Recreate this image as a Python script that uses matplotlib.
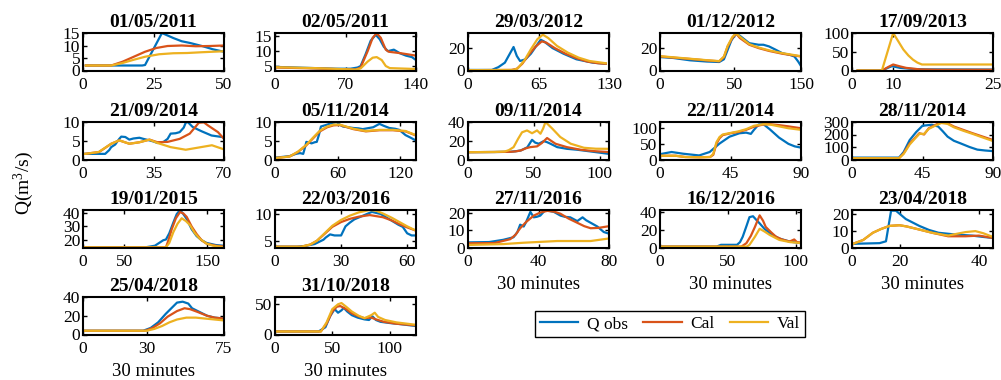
import numpy as np
import matplotlib
matplotlib.use('Agg')
import matplotlib.pyplot as plt
from matplotlib.lines import Line2D

plt.rcParams['font.family'] = ['Liberation Serif', 'DejaVu Serif']
plt.rcParams['mathtext.fontset'] = 'custom'
plt.rcParams['mathtext.rm'] = 'Liberation Serif'
plt.rcParams['mathtext.it'] = 'Liberation Serif:italic'

# event dates (one panel each)
titles = ['01/05/2011', '02/05/2011', '29/03/2012', '01/12/2012', '17/09/2013',
          '21/09/2014', '05/11/2014', '09/11/2014', '22/11/2014', '28/11/2014',
          '19/01/2015', '22/03/2016', '27/11/2016', '16/12/2016', '23/04/2018',
          '25/04/2018', '31/10/2018']

# axis ranges / ticks per panel
x_max = [50, 140, 130, 150, 25, 70, 135, 107, 90, 90, 170, 64, 80, 104, 44, 75, 123]
y_lim = [(0, 15), (3.5, 16.1), (0, 33.5), (0, 33.5), (0, 100),
         (0, 10), (0, 10), (0, 40), (0, 120), (0, 300),
         (14.7, 42), (3.75, 10.75), (0, 22), (0, 42), (0, 22.4),
         (0, 40), (0, 62)]
y_ticks = [[0, 5, 10, 15], [5, 10, 15], [0, 20], [0, 20], [0, 50, 100],
           [0, 5, 10], [0, 5, 10], [0, 20, 40], [0, 50, 100], [0, 100, 200, 300],
           [20, 30, 40], [5, 10], [0, 10, 20], [0, 20, 40], [0, 10, 20],
           [0, 20, 40], [0, 50]]
x_tick_labels = [['0', '25', '50'], ['0', '70', '140'], ['0', '65', '130'], ['0', '50', '150'],
                 ['0', '10', '25'], ['0', '35', '70'], ['0', '60', '120'], ['0', '50', '100'],
                 ['0', '45', '90'], ['0', '45', '90'], ['0', '50', '150'], ['0', '30', '60'],
                 ['0', '40', '80'], ['0', '50', '100'], ['0', '20', '40'], ['0', '30', '75'],
                 ['0', '50', '100']]
x_tick_pos = [[0, 25, 50], [0, 70, 140], [0, 65, 130], [0, 79, 150], [0, 7.3, 25],
              [0, 35, 70], [0, 60, 120], [0, 50, 100], [0, 45, 90], [0, 45, 90],
              [0, 50, 150], [0, 30, 60], [0, 40, 80], [0, 50, 100], [0, 14.9, 39.7],
              [0, 34, 75], [0, 50, 100]]

# readings [x, y]
obs_01 = [[1, 2], [21, 2], [22, 2.2], [28, 15], [32, 13], [35, 11.7], [38, 11], [42.5, 9.7], [46, 8.5], [50, 7.5]]
cal_01 = [[1, 2], [10, 2], [14, 3.5], [18, 5.5], [22, 7.5], [26, 9], [30, 9.8], [35, 10], [40, 9.7], [45, 9.8], [50, 10]]
val_01 = [[1, 2], [10, 2], [14, 3], [18, 4.3], [22, 5.5], [27, 6.5], [32, 6.9], [37, 7], [42, 7.3], [50, 7.7]]

obs_02 = [[1, 4.7], [20, 4.5], [40, 4.3], [60, 4.1], [75, 4.1], [82, 4.5], [85, 5], [90, 9], [95, 13.5], [100, 15.5],
          [104, 14], [108, 11.5], [112, 10], [118, 10.5], [124, 9.3], [130, 8.5], [136, 8], [140, 7]]
cal_02 = [[1, 4.5], [40, 4.2], [80, 3.8], [85, 4.5], [92, 10], [97, 14.5], [101, 16], [105, 14.5], [110, 10.5],
          [113, 9.8], [125, 9.3], [140, 8.5]]
val_02 = [[1, 4.6], [40, 4.3], [80, 3.8], [85, 4.2], [92, 6.5], [97, 7.8], [101, 8], [106, 7], [110, 5], [114, 4.3], [140, 4]]

obs_03 = [[0, 0.5], [22, 0.5], [28, 3], [34, 7], [38, 14], [42, 21], [45, 13], [48, 8.5], [53, 10], [58, 15], [63, 22],
          [67, 27.5], [70, 26], [78, 20], [88, 15], [100, 10], [115, 7], [127, 6]]
cal_03 = [[0, 0.3], [40, 0.5], [45, 1.5], [50, 6], [56, 14], [62, 21], [68, 26], [72, 25], [80, 20], [90, 15],
          [100, 11], [110, 8], [120, 6.5], [127, 6]]
val_03 = [[0, 0.3], [42, 0.5], [46, 2], [52, 9], [58, 19], [64, 28], [69, 32], [74, 29], [82, 22], [92, 16],
          [102, 11.5], [112, 8.5], [127, 6.5]]

obs_04 = [[0, 12], [14, 11.2], [32, 9.1], [50, 8], [63, 7.6], [68, 10], [72, 18.5], [76, 27], [81, 33], [85, 31],
          [95, 24.4], [105, 23], [110, 23], [116, 21.5], [122, 19], [130, 15.5], [138, 14], [143, 12.5], [147, 8], [150, 4]]
cal_04 = [[0, 12.6], [14, 11.5], [32, 10.3], [50, 9], [63, 8.2], [68, 12], [72, 21.5], [77, 29], [81, 33], [85, 29],
          [95, 23], [105, 20], [116, 17.5], [130, 15], [150, 12.5]]
val_04 = [[0, 12.8], [14, 11.8], [32, 10.5], [50, 9.2], [63, 8.4], [68, 12.5], [72, 22], [77, 30], [81, 33.2],
          [86, 29.5], [95, 23.5], [105, 20.5], [116, 18], [130, 15.5], [150, 12.8]]

obs_05 = [[1, 0], [5.3, 0], [6.5, 8], [7.1, 11.5], [8.5, 7], [10.8, 4], [13, 3], [25, 2.5]]
cal_05 = [[1, 0], [5.3, 0], [6.5, 10], [7.3, 16], [8.5, 11], [9.6, 7], [12, 3], [15, 2], [25, 2]]
val_05 = [[1, 0], [5.3, 0], [7.3, 100], [8.2, 78], [9.1, 56], [10, 40], [10.8, 29], [11.6, 21], [12.4, 16], [25, 16]]

obs_06 = [[1, 1.5], [11, 1.5], [13, 2.5], [14, 3.3], [16, 4], [18, 5.5], [19, 6.1], [21, 6], [23, 5.3], [25, 5.6],
          [28, 5.8], [30, 5.5], [33, 5.1], [35, 4.8], [37, 4.4], [40, 4.7], [42, 5.5], [43.5, 6.9], [46, 7], [48, 7.3],
          [50, 8.5], [51, 9.8], [52, 10], [54.4, 8.7], [57, 8], [59, 7.5], [63.8, 6.4], [69, 6], [70, 5.8]]
cal_06 = [[1, 1.5], [8, 2], [14, 4.2], [18, 5.1], [23, 4.2], [28, 4.6], [33, 5.3], [37, 4.6], [42, 4.7], [48, 5.5],
          [53, 6.9], [55.5, 8.5], [57.5, 9.8], [60, 9.9], [62, 9.1], [67, 7.3], [70, 5.5]]
val_06 = [[1, 1.5], [7.8, 2], [14, 4.2], [18, 5.1], [23, 4.2], [28, 4.6], [33, 5.3], [37, 4.4], [43.5, 3.3],
          [51, 2.6], [57.5, 3.2], [64, 3.8], [70, 2.7]]

obs_07 = [[1, 0.5], [14, 0.9], [20, 1.5], [24, 1.7], [27, 1.5], [29, 3.5], [30, 4.7], [33, 4.5], [35, 4.3], [38, 4.6],
          [40, 4.7], [42, 6.5], [44, 8.8], [50, 9.3], [54, 9.7], [59, 10], [62, 9.3], [65, 8.8], [70, 8.6], [75, 8.4],
          [80, 8.3], [84, 8.1], [90, 8.4], [94, 8.6], [100, 9.5], [104, 9], [109.5, 8.4], [115, 8.2], [119, 7.9],
          [122, 7.2], [125, 6.5], [130, 5.8], [134, 5.2]]
cal_07 = [[1, 0.4], [14, 0.8], [22, 2], [30, 3.8], [37, 5.8], [43, 7.5], [50, 8.6], [56, 9.1], [62, 9.2], [68, 8.7],
          [75, 8.1], [87, 7.5], [100, 7.8], [113, 7.8], [125, 7.5], [134, 6.5]]
val_07 = [[1, 0.4], [14, 0.8], [22, 2.1], [30, 3.9], [37, 6], [43, 7.7], [50, 8.8], [56, 9.3], [62, 9.3], [68, 8.8],
          [75, 8.2], [87, 7.6], [100, 7.9], [113, 7.9], [125, 7.6], [134, 6.6]]

obs_08 = [[0, 7.8], [20, 8], [32, 8.2], [36, 8.8], [40, 9.6], [45, 13], [48.6, 21], [51, 18], [53.7, 16.8], [57.5, 19.6],
          [60, 18.5], [62.6, 16.8], [67.7, 13.2], [75, 11.4], [83, 10.4], [93, 8.6], [107, 6]]
cal_08 = [[0, 7.8], [20, 8], [32, 8.2], [36, 8.6], [40, 9.6], [44, 12], [47.3, 13.2], [52.4, 14], [56, 17.5], [60, 22.9],
          [63, 20], [66.4, 16.8], [75, 13.2], [85.5, 10.4], [95, 9], [107, 7.9]]
val_08 = [[0, 7.8], [20, 8], [28, 8.5], [31, 10], [34.6, 13.2], [38, 22], [41, 29], [44.8, 31], [48.6, 28], [52.4, 31],
          [55, 27.5], [57, 33], [58.8, 40], [61, 37], [64, 32.9], [70, 24], [78, 16.8], [88, 12.5], [97, 11.5], [107, 11.4]]

obs_09 = [[1, 18], [7.4, 24], [14.8, 18.5], [25, 13], [31.7, 24], [38, 51], [44.4, 73], [50.7, 84], [55, 86], [58, 82],
          [60, 95], [63, 112], [66, 113], [70, 97], [76, 70], [82, 50], [86, 42], [90, 38]]
cal_09 = [[1, 12], [10, 12], [16, 8], [25, 7], [32, 8], [34, 15], [36, 50], [38, 68], [40, 78], [45, 84], [50, 88],
          [55, 95], [60, 105], [66, 112], [70, 113], [76, 110], [82, 106], [90, 100]]
val_09 = [[1, 12], [10, 12], [16, 8], [25, 7], [32, 8], [34, 18], [36, 55], [38, 72], [40, 80], [45, 85], [50, 90],
          [55, 97], [60, 108], [66, 113], [70, 112], [76, 106], [82, 100], [90, 95]]

obs_10 = [[0, 15], [30, 15], [33, 60], [36.8, 155], [41, 220], [45, 270], [51, 278], [55, 264], [58, 225], [61, 183],
          [65, 150], [69.5, 128], [75, 100], [80, 79], [85, 72], [89, 68]]
cal_10 = [[0, 10], [30, 10], [33, 50], [36.8, 128], [40, 170], [43, 210], [46, 200], [49, 250], [53, 275], [57, 300],
          [61, 290], [65, 264], [71, 237], [77, 210], [83, 185], [89, 160]]
val_10 = [[0, 10], [30, 10], [33, 45], [36.8, 120], [40, 165], [43, 205], [46, 205], [49, 245], [53, 270], [57, 292],
          [61, 285], [65, 258], [71, 230], [77, 205], [83, 178], [89, 152]]

obs_11 = [[0, 14.8], [75, 14.8], [86.7, 16], [96.8, 20], [100, 20.5], [104, 25], [109, 33], [113, 39], [117, 42],
          [121, 39], [125, 35.5], [131, 28], [137, 23], [143, 20], [149, 18], [160, 16.5], [169, 16]]
cal_11 = [[0, 14.8], [100, 14.8], [103, 20], [107, 28], [112, 36], [117, 40.5], [121, 39.5], [125, 37], [131, 30],
          [137, 24.5], [143, 20], [149, 17.5], [160, 16], [169, 15.5]]
val_11 = [[0, 14.8], [100, 14.8], [104, 18], [109, 26], [114, 32], [119, 36], [124, 34], [129, 31], [135, 25],
          [141, 21], [149, 17.5], [157, 16], [169, 15]]

obs_12 = [[0.75, 3.9], [10, 3.9], [14, 4.06], [18, 4.4], [20, 4.8], [22, 5.2], [23, 5.6], [25, 6.2], [27, 6.0], [30, 6.0],
          [32, 7.7], [34, 8.4], [36, 9], [40, 9.7], [44, 10.4], [48, 10.0], [52, 9.0], [56, 8.0], [58, 7.6], [60, 6.4],
          [62, 6.0], [64, 6.0]]
cal_12 = [[0.75, 3.9], [12, 3.9], [16, 4.3], [19, 5], [22, 6.1], [26, 7.6], [30, 8.5], [34, 9.1], [38, 9.5], [43, 9.8],
          [49, 9.4], [53, 8.8], [56.5, 8.1], [60, 7.5], [64, 6.9]]
val_12 = [[0.75, 3.9], [12, 3.9], [16, 4.3], [19, 5], [22, 6.2], [26, 7.8], [30, 8.9], [34, 9.7], [38, 10.3],
          [43, 10.75], [46, 10.6], [49, 10.1], [53, 9.3], [56.5, 8.5], [60, 7.7], [64, 6.9]]

obs_13 = [[0, 3], [12, 3.2], [20, 4.5], [25.8, 6], [28, 9], [29.6, 13.4], [31.6, 12.3], [33, 15], [35.4, 20.9],
          [37.3, 17.7], [39, 18], [41, 18.7], [43, 21], [44, 22], [46, 21.5], [48.7, 20.9], [52.5, 18.7], [55, 18],
          [58, 17.7], [62, 15.5], [65, 17.7], [67, 16], [69.6, 14.5], [73.4, 12.3], [77, 9.1], [80, 8.1]]
cal_13 = [[0, 2.5], [15, 2.6], [24, 4.9], [27, 7.5], [29.6, 11.3], [33, 15], [37.3, 18.7], [41, 20.5], [45, 21.5],
          [49, 21], [52.5, 19.8], [57, 17], [62, 14.5], [66, 12.5], [69.6, 11.3], [74, 11.5], [80, 12.5]]
val_13 = [[0, 1.5], [20, 2], [31.6, 2.8], [50.6, 3.8], [69.6, 3.8], [80, 5.3]]

obs_14 = [[0, 1], [41.7, 1], [45, 3], [56.8, 3], [59, 6], [61, 12], [64, 25], [66, 34], [68.6, 35], [71, 31],
          [73.5, 27], [77, 21], [81, 16], [88, 10], [95.6, 6.7], [104, 4.8]]
cal_14 = [[0, 1], [60, 1], [63.7, 4.8], [67, 13], [70, 23], [73.5, 36], [76, 30], [78, 23], [82, 17], [85.6, 12],
          [90, 9], [95.6, 6.7], [99, 9], [101, 6], [104, 5.5]]
val_14 = [[0, 1], [64, 1], [66, 3], [70, 12], [73.5, 21], [77, 18], [81, 14], [88, 8.5], [96, 6], [104, 5]]

obs_15 = [[0.3, 2.2], [8.6, 2.6], [10.6, 3.7], [12.2, 22], [13.7, 22], [16.8, 17], [21, 12.9], [24, 10.5], [27, 8.8],
          [32, 7.8], [37.5, 7.1], [41, 6.3], [44, 5.7]]
cal_15 = [[0.3, 2.2], [3.5, 4.5], [6.5, 8.8], [9, 11], [11.7, 12.9], [14.8, 13.3], [17, 12.6], [20, 11.2], [25, 8.8],
          [30, 6.7], [35.4, 6.7], [39.6, 7.1], [44, 5.7]]
val_15 = [[0.3, 2.2], [3.5, 4.5], [6.5, 8.8], [9, 11], [11.7, 12.9], [14.8, 13.3], [17, 12.6], [20, 11.2], [25, 8.8],
          [30, 7.1], [33, 8.3], [35.4, 9.2], [38.5, 9.8], [41, 8.5], [44, 6.3]]

obs_16 = [[0, 4], [32, 4], [36, 7], [40, 13], [44, 22], [48, 30], [50, 34], [53, 35], [56, 33], [58, 28], [62, 24],
          [66, 20], [70, 18], [75, 17]]
cal_16 = [[0, 4], [33, 4], [37, 7], [41, 12], [45, 19], [50, 25], [54, 28], [57, 27], [61, 24], [66, 20], [70, 18], [75, 17]]
val_16 = [[0, 4], [34, 4], [38, 6], [42, 9], [46, 13], [50, 16], [55, 18], [60, 18], [65, 17], [70, 16], [75, 15]]

obs_17 = [[0, 5], [38, 5], [44, 12], [48, 30], [52, 42], [55, 36], [58, 40], [60, 44], [63, 38], [67, 32], [72, 28],
          [78, 25], [82, 24], [85, 30], [88, 24], [92, 21], [100, 19], [110, 17], [123, 14]]
cal_17 = [[0, 5], [40, 5], [45, 18], [50, 38], [54, 46], [57, 47], [62, 42], [67, 35], [73, 30], [78, 27], [84, 28],
          [88, 25], [95, 21], [105, 18], [123, 15]]
val_17 = [[0, 5], [40, 5], [45, 20], [50, 42], [55, 50], [58, 52], [62, 46], [67, 38], [73, 31], [78, 27], [84, 32],
          [87, 36], [90, 29], [96, 24], [106, 20], [123, 16]]

obs_list = [obs_01, obs_02, obs_03, obs_04, obs_05, obs_06, obs_07, obs_08, obs_09, obs_10,
            obs_11, obs_12, obs_13, obs_14, obs_15, obs_16, obs_17]
cal_list = [cal_01, cal_02, cal_03, cal_04, cal_05, cal_06, cal_07, cal_08, cal_09, cal_10,
            cal_11, cal_12, cal_13, cal_14, cal_15, cal_16, cal_17]
val_list = [val_01, val_02, val_03, val_04, val_05, val_06, val_07, val_08, val_09, val_10,
            val_11, val_12, val_13, val_14, val_15, val_16, val_17]

colors = ['#0072BD', '#D95319', '#EDB120']
legend_names = ['Q obs', 'Cal', 'Val']

W, H = 1001, 380
fig = plt.figure(figsize=(W / 100, H / 100), dpi=100)

col_left = [83, 275, 468, 660, 852]
row_top = [33, 122, 210, 297]
ax_w, ax_h = 141, 37.5
xlabel_panels = [12, 13, 14, 15, 16]

for i, title in enumerate(titles):
    r, c = divmod(i, 5)
    ax = fig.add_axes([col_left[c] / W, 1 - (row_top[r] + ax_h) / H, ax_w / W, ax_h / H])
    for series, color in zip([obs_list[i], cal_list[i], val_list[i]], colors):
        xy = np.array(series)
        ax.plot(xy[:, 0], xy[:, 1], color=color, lw=1.6, solid_joinstyle='round')
    ax.set_xlim(0, x_max[i])
    ax.set_ylim(*y_lim[i])
    ax.set_yticks(y_ticks[i])
    ax.set_xticks(x_tick_pos[i])
    ax.set_xticklabels(x_tick_labels[i])
    ax.tick_params(direction='in', top=True, right=True, length=3, width=1, labelsize=12.5)
    ax.tick_params(axis='x', pad=5)
    ax.tick_params(axis='y', pad=2)
    for sp in ax.spines.values():
        sp.set_linewidth(1.5)
    ax.set_title(title, fontsize=14, fontweight='bold', pad=4)
    if i in xlabel_panels:
        ax.set_xlabel('30 minutes', fontsize=13.5, labelpad=4)

fig.text(24 / W, 1 - 183 / H, 'Q(m$^3$/s)', rotation=90, fontsize=14, ha='center', va='center')

handles = [Line2D([], [], color=col, lw=1.6) for col in colors]
leg = fig.legend(handles, legend_names, loc='center', bbox_to_anchor=(670 / W, 1 - 324 / H), ncol=3,
                 fontsize=12.5, frameon=True, fancybox=False, edgecolor='black', framealpha=1,
                 handlelength=2.2, handletextpad=0.5, columnspacing=0.9, borderpad=0.3)
leg.get_frame().set_linewidth(1.0)

fig.savefig('out.png', dpi=100)
